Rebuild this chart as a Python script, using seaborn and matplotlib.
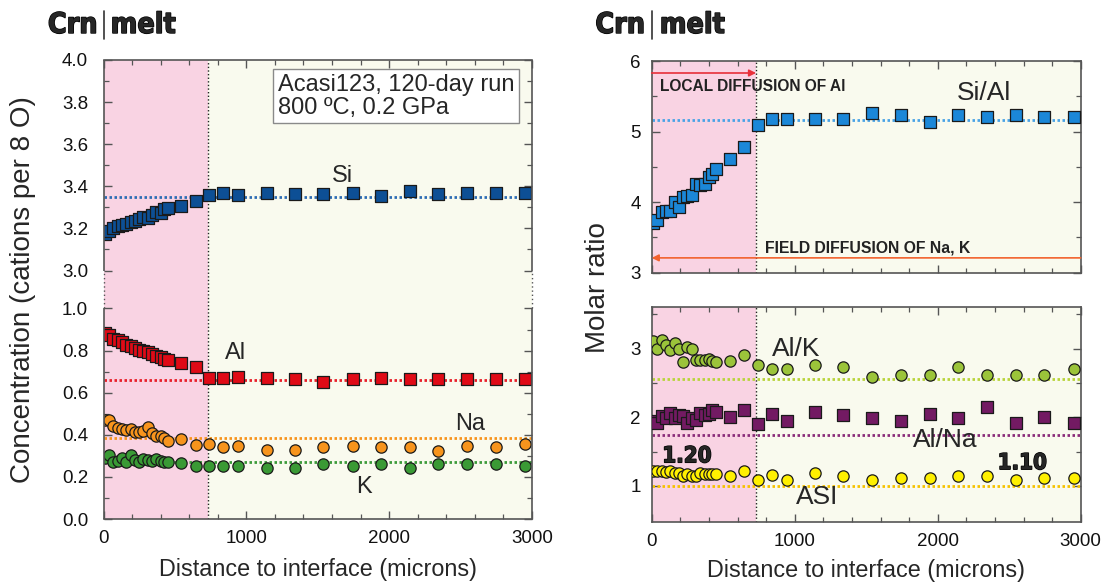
import numpy as np
import matplotlib
matplotlib.use("Agg")
import matplotlib.pyplot as plt
from matplotlib.lines import Line2D
import matplotlib.patheffects as pe
import seaborn as sns

# ---------------------------------------------------------------- data
distance = [10, 40, 70, 100, 130, 160, 190, 220, 250, 280, 310, 340, 370, 400,
            425, 450, 545, 645, 740, 840, 945, 1145, 1340, 1540, 1745, 1945,
            2145, 2345, 2545, 2745, 2950]

si = [3.175, 3.19, 3.20, 3.21, 3.215, 3.22, 3.23, 3.235, 3.245, 3.255, 3.25,
      3.265, 3.28, 3.275, 3.29, 3.296, 3.305, 3.33, 3.358, 3.37, 3.357, 3.368,
      3.365, 3.365, 3.367, 3.355, 3.376, 3.365, 3.368, 3.368, 3.37]
al = [0.885, 0.873, 0.857, 0.848, 0.84, 0.828, 0.82, 0.812, 0.805, 0.80, 0.793,
      0.785, 0.775, 0.768, 0.76, 0.755, 0.74, 0.72, 0.672, 0.672, 0.675, 0.672,
      0.663, 0.652, 0.663, 0.672, 0.663, 0.663, 0.663, 0.663, 0.663]
na = [0.468, 0.471, 0.441, 0.431, 0.428, 0.425, 0.428, 0.415, 0.412, 0.418,
      0.436, 0.41, 0.396, 0.396, 0.383, 0.369, 0.38, 0.35, 0.358, 0.342, 0.348,
      0.33, 0.33, 0.34, 0.348, 0.34, 0.34, 0.322, 0.348, 0.34, 0.358]
k = [0.292, 0.304, 0.271, 0.276, 0.292, 0.271, 0.304, 0.28, 0.271, 0.285, 0.28,
     0.275, 0.285, 0.276, 0.271, 0.271, 0.268, 0.251, 0.251, 0.251, 0.251, 0.24,
     0.24, 0.263, 0.251, 0.263, 0.24, 0.263, 0.263, 0.263, 0.251]

si_al = [3.70, 3.74, 3.86, 3.88, 3.87, 4.0, 3.93, 4.07, 4.08, 4.10, 4.25, 4.24,
         4.25, 4.35, 4.40, 4.47, 4.61, 4.78, 5.09, 5.18, 5.18, 5.18, 5.18, 5.26,
         5.23, 5.14, 5.23, 5.21, 5.23, 5.21, 5.21]
al_k = [3.11, 2.99, 3.13, 3.05, 2.98, 3.08, 2.99, 2.80, 3.02, 2.99, 2.84, 2.83,
        2.84, 2.85, 2.82, 2.80, 2.82, 2.905, 2.76, 2.70, 2.70, 2.76, 2.735, 2.59,
        2.615, 2.615, 2.735, 2.615, 2.615, 2.615, 2.70]
al_na = [1.95, 1.92, 2.02, 1.99, 2.06, 1.985, 2.03, 2.02, 1.92, 1.99, 1.96, 2.06,
         2.03, 2.05, 2.10, 2.08, 2.0, 2.10, 1.90, 2.05, 1.95, 2.07, 2.03, 1.985,
         1.95, 2.04, 1.985, 2.15, 1.92, 2.01, 1.92]
asi = [1.21, 1.21, 1.21, 1.20, 1.21, 1.185, 1.185, 1.145, 1.18, 1.145, 1.15,
       1.185, 1.18, 1.175, 1.18, 1.175, 1.145, 1.21, 1.087, 1.16, 1.087, 1.185,
       1.145, 1.087, 1.11, 1.11, 1.145, 1.145, 1.087, 1.11, 1.11]

# far-field (melt) reference levels
si_ref, al_ref, na_ref, k_ref = 3.35, 0.66, 0.385, 0.272
si_al_ref, al_k_ref, al_na_ref, asi_ref = 5.17, 2.55, 1.74, 1.0
interface = 730
asi_near_label, asi_far_label = "1.20", "1.10"

# ---------------------------------------------------------------- style
sns.set_style("ticks")
plt.rcParams["font.family"] = ["Liberation Sans", "DejaVu Sans"]
plt.rcParams.update({
    "xtick.direction": "in", "ytick.direction": "in",
    "xtick.top": True, "ytick.right": True,
    "xtick.major.size": 6, "ytick.major.size": 6,
    "xtick.minor.size": 3.5, "ytick.minor.size": 3.5,
    "xtick.major.width": 1.0, "ytick.major.width": 1.0,
    "xtick.minor.width": 0.9, "ytick.minor.width": 0.9,
    "xtick.color": "#555555", "ytick.color": "#555555",
    "xtick.labelcolor": "#111111", "ytick.labelcolor": "#111111",
    "axes.edgecolor": "#555555", "axes.linewidth": 1.2,
})

PINK = "#F9D3E3"
CREAM = "#F9FAEE"
FRAME = "#555555"
HEAVY = dict(family="DejaVu Sans", weight="bold", stretch="condensed")

fig = plt.figure(figsize=(11.09, 5.83), dpi=100)
W, H = 1109, 583


def frac(x0, y_top, x1, y_bot):
    return [x0 / W, 1 - y_bot / H, (x1 - x0) / W, (y_bot - y_top) / H]


ax_l = fig.add_axes(frac(103.5, 60, 532, 519))
ax_rt = fig.add_axes(frac(651.7, 61, 1080.7, 272.7))
ax_rb = fig.add_axes(frac(651.7, 307.3, 1080.7, 522.3))

# compressed span between 1.0 and 3.0 on the concentration axis
GAP = 0.18


def squeeze(y):
    y = np.asarray(y, dtype=float)
    return np.where(y <= 1, y, np.where(y <= 3, 1 + (y - 1) * GAP / 2, y - 2 + GAP))


def unsqueeze(t):
    t = np.asarray(t, dtype=float)
    return np.where(t <= 1, t, np.where(t <= 1 + GAP, 1 + (t - 1) * 2 / GAP, t + 2 - GAP))


for ax in (ax_l, ax_rt, ax_rb):
    ax.set_facecolor(CREAM)
    ax.axvspan(0, interface, color=PINK, lw=0, zorder=0)
    ax.axvline(interface, color="#222222", lw=1.0, ls=(0, (1, 1.6)), zorder=1)
    ax.set_xlim(0, 3000)
    ax.set_xticks([0, 1000, 2000, 3000])
    ax.set_xticks(np.arange(0, 3001, 200), minor=True)
    ax.tick_params(axis="both", which="both", labelsize=13.5, pad=8)


def scatter(ax, y, marker, color):
    size = 78 if marker == "s" else 66
    sns.scatterplot(x=distance, y=y, ax=ax, marker=marker, color=color,
                    edgecolor="#1a1a1a", linewidth=0.9, s=size, zorder=4,
                    legend=False)


def ref_line(ax, y, color):
    ax.axhline(y, color=color, lw=2.0, ls=(0, (0.9, 0.9)), zorder=2)


# ---------------------------------------------------------------- left panel
ax_l.set_yscale("function", functions=(squeeze, unsqueeze))
ref_line(ax_l, si_ref, "#2E6DB4")
ref_line(ax_l, al_ref, "#E8202A")
ref_line(ax_l, na_ref, "#F7941D")
ref_line(ax_l, k_ref, "#3C9B3A")
scatter(ax_l, si, "s", "#0D4F95")
scatter(ax_l, al, "s", "#E00A16")
scatter(ax_l, na, "o", "#F7941D")
scatter(ax_l, k, "o", "#3A9A35")
ax_l.set_ylim(0, 4.0)
major = [0, 0.2, 0.4, 0.6, 0.8, 1.0, 3.0, 3.2, 3.4, 3.6, 3.8, 4.0]
minor = [0.1, 0.3, 0.5, 0.7, 0.9, 3.1, 3.3, 3.5, 3.7, 3.9]
ax_l.set_yticks(major)
ax_l.set_yticklabels([f"{v:.1f}" for v in major])
ax_l.set_yticks(minor, minor=True)
ax_l.tick_params(axis="y", which="major", pad=11)

# broken frame: solid below 1.0 and above 3.0, dotted across the break
ax_l.spines["left"].set_visible(False)
ax_l.spines["right"].set_visible(False)
ytr = ax_l.get_yaxis_transform()
for xa in (0, 1):
    for lo, hi, ls, lw in ((0, 1.0, "-", 1.2), (1.0, 3.0, (0, (1, 2)), 1.0),
                           (3.0, 4.0, "-", 1.2)):
        ax_l.plot([xa, xa], [lo, hi], transform=ytr, color=FRAME, lw=lw, ls=ls,
                  clip_on=False, solid_capstyle="butt", zorder=5)

ax_l.set_xlabel("Distance to interface (microns)", fontsize=16.8)
ax_l.xaxis.set_label_coords(0.5, -0.084)
ax_l.set_ylabel("Concentration (cations per 8 O)", fontsize=20)
ax_l.yaxis.set_label_coords(-0.158, 0.5)

ax_l.text(1220, 3.828, "Acasi123, 120-day run\n800 ºC, 0.2 GPa", fontsize=17,
          ha="left", va="center", linespacing=1.05, zorder=6,
          bbox=dict(boxstyle="square,pad=0.2", fc="white", ec="#8a8a8a", lw=1.0))
ax_l.text(1676, 3.45, "Si", fontsize=17, ha="center", va="center")
ax_l.text(927, 0.79, "Al", fontsize=17, ha="center", va="center")
ax_l.text(2565, 0.45, "Na", fontsize=17, ha="center", va="center")
ax_l.text(1823, 0.15, "K", fontsize=17, ha="center", va="center")

# ---------------------------------------------------------------- right top
ref_line(ax_rt, si_al_ref, "#4AA3E6")
scatter(ax_rt, si_al, "s", "#1B87D8")
ax_rt.set_ylim(3, 6)
ax_rt.set_yticks([3, 4, 5, 6])
ax_rt.set_yticks([3.5, 4.5, 5.5], minor=True)
ax_rt.tick_params(axis="x", labelbottom=False)
ax_rt.annotate("", xy=(interface, 5.83), xytext=(0, 5.83),
               arrowprops=dict(arrowstyle="-|>", color="#E8303A", lw=1.2,
                               mutation_scale=10, shrinkA=0, shrinkB=0))
ax_rt.annotate("", xy=(0, 3.21), xytext=(3000, 3.21),
               arrowprops=dict(arrowstyle="-|>", color="#F2622E", lw=1.2,
                               mutation_scale=10, shrinkA=0, shrinkB=0))
ax_rt.text(58, 5.645, "LOCAL DIFFUSION OF Al", fontsize=11.2, weight="bold",
           ha="left", va="center", color="#222222", zorder=6)
ax_rt.text(792, 3.35, "FIELD DIFFUSION OF Na, K", fontsize=11.3, weight="bold",
           ha="left", va="center", color="#222222", zorder=6)
ax_rt.text(2324, 5.54, "Si/Al", fontsize=19, ha="center", va="center")

# ---------------------------------------------------------------- right bottom
ref_line(ax_rb, al_k_ref, "#B8D33A")
ref_line(ax_rb, al_na_ref, "#8B2C7A")
ref_line(ax_rb, asi_ref, "#F5C200")
scatter(ax_rb, al_k, "o", "#9BC43A")
scatter(ax_rb, al_na, "s", "#731A63")
scatter(ax_rb, asi, "o", "#FFF000")
ax_rb.set_ylim(0.47, 3.6)
ax_rb.set_yticks([1, 2, 3])
ax_rb.set_yticks([1.5, 2.5, 3.5], minor=True)
ax_rb.set_xlabel("Distance to interface (microns)", fontsize=16.8)
ax_rb.xaxis.set_label_coords(0.5, -0.171)
ax_rb.text(1010, 2.99, "Al/K", fontsize=19, ha="center", va="center")
ax_rb.text(2053, 1.67, "Al/Na", fontsize=19, ha="center", va="center")
ax_rb.text(1157, 0.845, "ASI", fontsize=19, ha="center", va="center")
bold_fx = [pe.withStroke(linewidth=1.0, foreground="black")]
ax_rb.text(247, 1.43, asi_near_label, fontsize=16, ha="center", va="center",
           path_effects=bold_fx, **HEAVY)
ax_rb.text(2592, 1.33, asi_far_label, fontsize=16, ha="center", va="center",
           path_effects=bold_fx, **HEAVY)

fig.text(598 / W, 1 - 288 / H, "Molar ratio", rotation=90, fontsize=20,
         ha="center", va="center")

# ---------------------------------------------------------------- headers
for bar_x, crn_right, melt_left in ((103.5, 97.5, 110.7), (651.7, 645.0, 659.8)):
    fig.text(crn_right / W, 1 - 33 / H, "Crn", ha="right", va="baseline",
             fontsize=20.5, path_effects=bold_fx, **HEAVY)
    fig.text(melt_left / W, 1 - 33 / H, "melt", ha="left", va="baseline",
             fontsize=20.5, path_effects=bold_fx, **HEAVY)
    fig.add_artist(Line2D([bar_x / W, bar_x / W], [1 - 11 / H, 1 - 39 / H],
                          transform=fig.transFigure, color="#333333", lw=1.2))

fig.savefig("out.png", dpi=100)
